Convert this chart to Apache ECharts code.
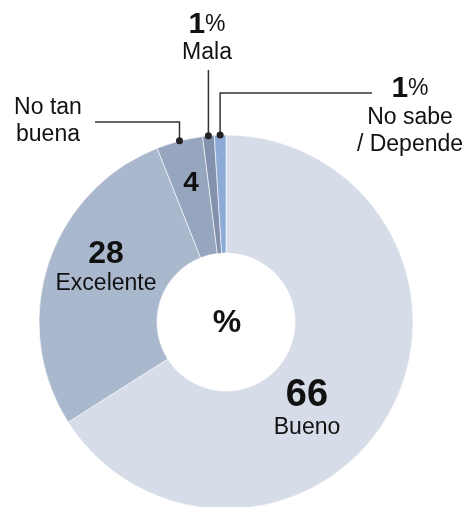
<!DOCTYPE html>
<html>
<head>
<meta charset="utf-8">
<script src="https://cdn.jsdelivr.net/npm/echarts@6/dist/echarts.min.js"></script>
<style>
  html, body { margin: 0; padding: 0; background: #fff; }
  #main { width: 472px; height: 507px; }
</style>
</head>
<body>
<div id="main"></div>
<script>
var categories = ['Bueno', 'Excelente', 'No tan buena', 'Mala', 'No sabe / Depende']
var values = [66, 28, 4, 1, 1]
var labelText = ['Bueno', 'Excelente', 'No tan\nbuena', 'Mala', 'No sabe\n/ Depende']
var colors = ['#d6dde8', '#a9b8cd', '#97a6bf', '#8391ad', '#8eaad6']

var font = "'Liberation Sans', Arial, sans-serif"
var myChart = echarts.init(document.getElementById('main'))

var pieData = values.map(function(v, i) {
  return { name: categories[i], value: v, itemStyle: { color: colors[i] } }
})

// where the labels sit
var innerPos = { 0: [307, 409], 1: [106, 268], 2: [191, 183] }
var outerPos = { 2: [48, 121], 3: [207, 38], 4: [410, 116] }

var option = {
  animation: false,
  textStyle: { fontFamily: font },
  graphic: [{
    type: 'text', x: 227, y: 323,
    style: { text: '%', font: 'bold 32px ' + font, fill: '#111', align: 'center', verticalAlign: 'middle' }
  }],
  series: [{
    type: 'pie',
    center: [226, 322],
    radius: [69, 187],
    startAngle: 90,
    clockwise: true,
    avoidLabelOverlap: false,
    emphasis: { disabled: true },
    itemStyle: { borderColor: 'rgba(255,255,255,0.6)', borderWidth: 1 },
    label: {
      show: true,
      position: 'inside',
      color: '#111',
      formatter: function(p) {
        if (p.dataIndex == 2) return '{n4|' + p.value + '}'
        if (p.dataIndex > 2) return ''
        return '{n' + p.dataIndex + '|' + p.value + '}\n{t|' + labelText[p.dataIndex] + '}'
      },
      rich: {
        n0: { fontSize: 38, fontWeight: 'bold', lineHeight: 38, fontFamily: font, color: '#111' },
        n1: { fontSize: 32, fontWeight: 'bold', lineHeight: 32, fontFamily: font, color: '#111' },
        n4: { fontSize: 28, fontWeight: 'bold', lineHeight: 30, fontFamily: font, color: '#111' },
        t: { fontSize: 23, lineHeight: 27, fontFamily: font, color: '#111' }
      }
    },
    labelLine: { show: false },
    labelLayout: function(p) {
      var pos = innerPos[p.dataIndex]
      if (!pos) return {}
      return { x: pos[0], y: pos[1], align: 'center', verticalAlign: 'middle' }
    },
    data: pieData
  }, {
    type: 'pie',
    center: [226, 322],
    radius: [69, 187],
    startAngle: 90,
    clockwise: true,
    silent: true,
    avoidLabelOverlap: false,
    emphasis: { disabled: true },
    itemStyle: { color: 'rgba(0,0,0,0)' },
    label: {
      show: true,
      position: 'outside',
      color: '#111',
      formatter: function(p) {
        if (p.dataIndex == 2) return '{t|' + labelText[2] + '}'
        return '{b|' + p.value + '}{p|%}\n{t|' + labelText[p.dataIndex] + '}'
      },
      rich: {
        b: { fontSize: 30, fontWeight: 'bold', lineHeight: 30, fontFamily: font, color: '#111' },
        p: { fontSize: 23, lineHeight: 30, fontFamily: font, color: '#111' },
        t: { fontSize: 23, lineHeight: 27, fontFamily: font, color: '#111', align: 'center' }
      }
    },
    labelLine: { show: true, lineStyle: { color: '#333', width: 1.5 } },
    labelLayout: function(p) {
      var pos = outerPos[p.dataIndex]
      var pts = p.labelLinePoints
      if (!pos || !pts) return {}
      var s = pts[0]
      var line
      if (p.dataIndex == 2) line = [s, [s[0], 122], [95, 122]]
      else if (p.dataIndex == 3) line = [s, [s[0], 70], [s[0], 70]]
      else line = [s, [s[0], 93], [372, 93]]
      return { x: pos[0], y: pos[1], align: 'center', verticalAlign: 'middle', labelLinePoints: line }
    },
    data: pieData.map(function(d, i) {
      var item = { name: d.name, value: d.value }
      if (i < 2) {
        item.label = { show: false }
        item.labelLine = { show: false }
      }
      return item
    })
  }]
}

myChart.setOption(option)

// dots at the start of each leader line, taken from the slice layout
var sliceData = myChart.getModel().getSeriesByIndex(0).getData()
var dots = [2, 3, 4].map(function(i) {
  var l = sliceData.getItemLayout(i)
  var a = (l.startAngle + l.endAngle) / 2
  return {
    type: 'circle',
    shape: { cx: l.cx + l.r * Math.cos(a), cy: l.cy + l.r * Math.sin(a), r: 3.5 },
    style: { fill: '#222' },
    z: 100
  }
})
myChart.setOption({ graphic: option.graphic.concat(dots) })
</script>
</body>
</html>
